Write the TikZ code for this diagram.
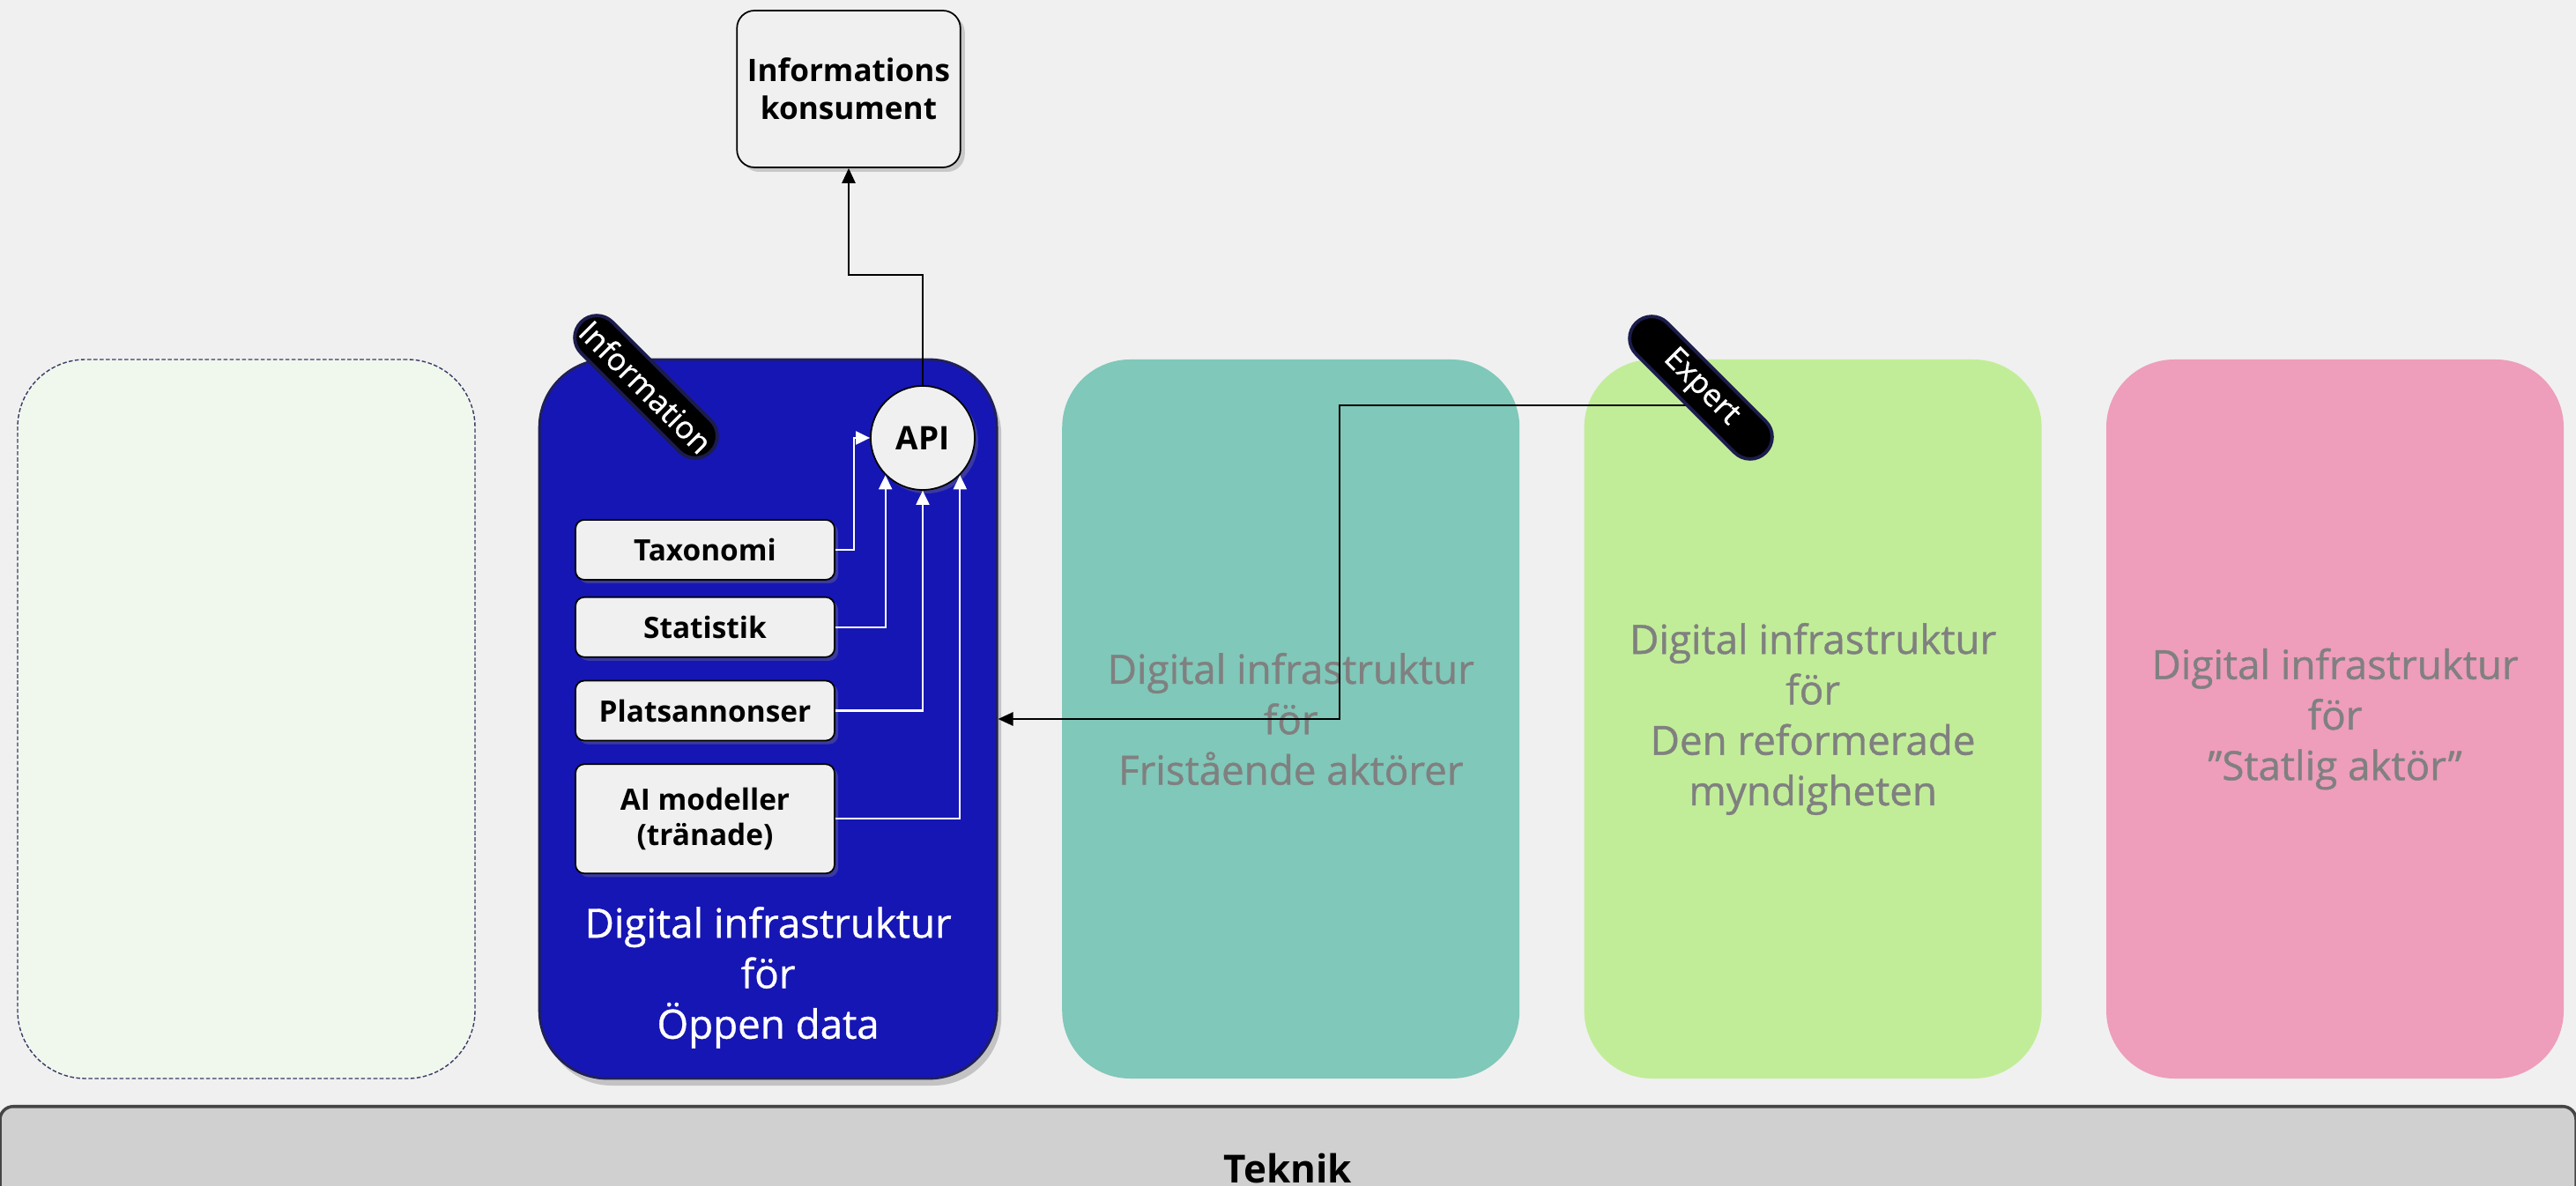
\documentclass[tikz,border=0pt]{standalone}
\usepackage{fontspec}
\setmainfont{Open Sans}
\newfontfamily\colfont[FakeBold=0.9]{Open Sans}
\usepackage{tikz}
\usetikzlibrary{shapes,shapes.misc,positioning,arrows.meta,calc,shadows}

\definecolor{bggray}{HTML}{F0F0F0}
\definecolor{emptygreen}{HTML}{F0F8EE}
\definecolor{dashnavy}{HTML}{3A3A66}
\definecolor{oppenblue}{HTML}{1616B4}
\definecolor{bordernavy}{HTML}{202058}
\definecolor{fristeal}{HTML}{80C8B9}
\definecolor{reformgreen}{HTML}{C1ED98}
\definecolor{statpink}{HTML}{EE9DBB}
\definecolor{txtgray}{HTML}{808080}
\definecolor{tagnavy}{HTML}{1C1C4C}
\definecolor{barfill}{HTML}{D0D0D0}
\definecolor{barline}{HTML}{454545}

\begin{document}
\begin{tikzpicture}[x=1cm,y=1cm,
            infra/.style={rectangle, rounded corners=0.77cm, minimum width=5.19cm,
                minimum height=8.16cm, draw=none, align=center, text=txtgray,
                font=\colfont\fontsize{13}{16.3}\selectfont},
            part/.style={rectangle, rounded corners=0.1cm, draw=black, line width=0.5pt,
                fill=bggray, minimum width=2.94cm, minimum height=0.68cm, align=center,
                font=\fontsize{9.5}{11.5}\selectfont\bfseries,
                drop shadow={opacity=0.35, shadow xshift=0.04cm, shadow yshift=-0.04cm}},
            tag/.style={rounded rectangle, fill=black, draw=tagnavy, line width=1.1pt,
                text=white, minimum width=2.15cm, minimum height=0.5cm, inner sep=1pt,
                font=\colfont\fontsize{10}{11}\selectfont, rotate=-45},
            wire/.style={draw=white, line width=0.6pt, -{Triangle[length=0.16cm,width=0.15cm]}},
            link/.style={draw=black, line width=0.75pt, -{Triangle[length=0.17cm,width=0.15cm]}}]

            \useasboundingbox (0,0) rectangle (29.23,-13.46);
            \fill[bggray] (0,0) rectangle (29.23,-13.46);

            % columns
            \node [infra, fill=emptygreen, draw=dashnavy, line width=0.4pt,
                dash pattern=on 1.3pt off 0.7pt] (tom) at (2.795,-8.16) {};
            \node [infra, fill=oppenblue, draw=bordernavy, line width=0.8pt,
                drop shadow={opacity=0.4, shadow xshift=0.05cm, shadow yshift=-0.08cm},
                right=0.71cm of tom] (oppen) {};
            \node [infra, fill=fristeal, right=0.72cm of oppen] (fri)
                {Digital infrastruktur\\för\\Fristående aktörer};
            \node [infra, fill=reformgreen, right=0.72cm of fri] (reform)
                {Digital infrastruktur\\för\\Den reformerade\\myndigheten};
            \node [infra, fill=statpink, right=0.72cm of reform] (statlig)
                {Digital infrastruktur\\för\\”Statlig aktör”};
            \node [text=white, align=center, inner sep=0pt, font=\colfont\fontsize{13}{16.3}\selectfont,
                above=0.35cm of oppen.south] (oppentxt) {Digital infrastruktur\\för\\Öppen data};

            % open data parts
            \node [part] (tax) at (8.00,-6.24) {Taxonomi};
            \node [part, below=0.18cm of tax] (stat) {Statistik};
            \node [part, below=0.25cm of stat] (plats) {Platsannonser};
            \node [part, below=0.25cm of plats, minimum height=1.24cm] (ai) {AI modeller\\(tränade)};

            \node [circle, draw=black, line width=0.5pt, fill=bggray, minimum size=1.18cm,
                inner sep=0pt, font=\fontsize{10.5}{12}\selectfont\bfseries,
                drop shadow={opacity=0.35, shadow xshift=0.04cm, shadow yshift=-0.04cm}]
                (api) at (10.47,-4.97) {API};
            \node [rectangle, rounded corners=0.2cm, draw=black, line width=0.5pt, fill=bggray,
                minimum width=2.52cm, minimum height=1.78cm, align=center,
                font=\fontsize{10}{12.2}\selectfont\bfseries,
                drop shadow={opacity=0.35, shadow xshift=0.05cm, shadow yshift=-0.05cm}]
                (kons) at (9.63,-1.01) {Informations\\konsument};

            \draw [wire] (tax.east) -- ++(0.21,0) |- (api.west);
            \draw [wire] (stat.east) -| (api.-135);
            \draw [wire] (plats.east) -| (api.south);
            \draw [wire] (ai.east) -| (api.-45);

            \draw [link] (api.north) -- ++(0,1.25) -| (kons.south);
            \coordinate (ex) at (19.2,-4.60);
            \draw [link] (ex) -- ++(-4.0,0) |- (oppen.east);

            \node [tag] (info) at (7.33,-4.39) {Information};
            \node [tag] (expert) at (19.30,-4.40) {Expert};

            % bottom bar
            \node [rectangle, rounded corners=0.15cm, draw=barline, line width=1pt, fill=barfill,
                minimum width=29.23cm, minimum height=1.4cm, anchor=north,
                font=\fontsize{12.5}{14}\selectfont\bfseries] (teknik) at (14.615,-12.54) {Teknik};

        \end{tikzpicture}
\end{document}
